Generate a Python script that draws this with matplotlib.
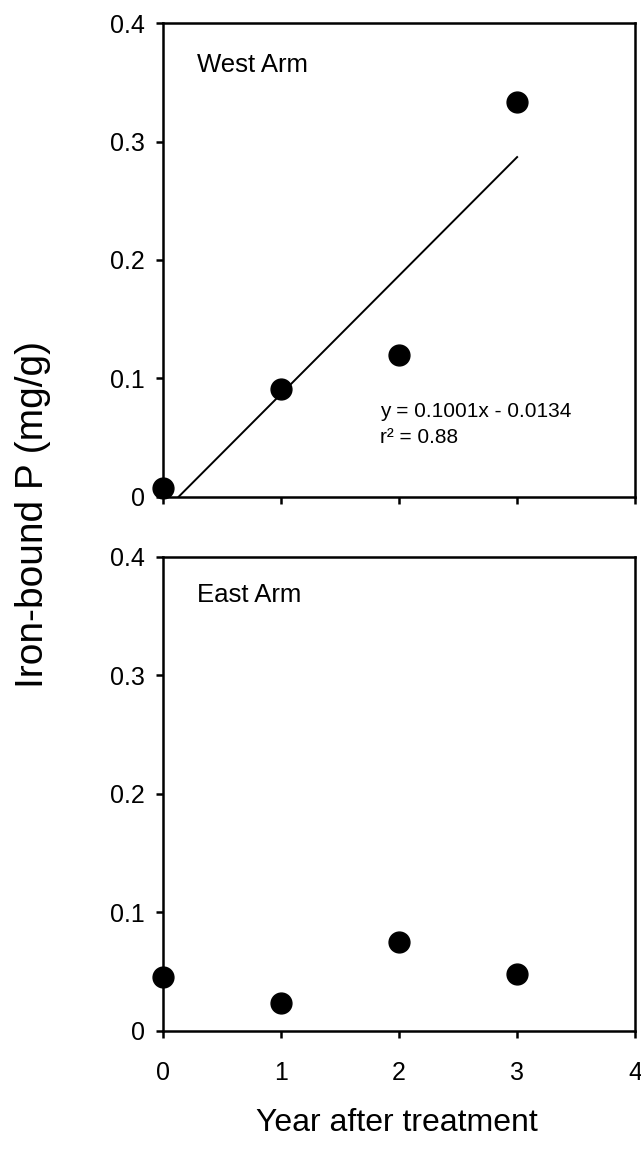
import matplotlib
matplotlib.use("Agg")
import matplotlib.pyplot as plt
import numpy as np

plt.rcParams["font.family"] = ["Liberation Sans", "DejaVu Sans"]

years = [0, 1, 2, 3]
west_p = [0.007, 0.091, 0.120, 0.333]
east_p = [0.045, 0.023, 0.075, 0.048]

# regression for the West Arm
slope = 0.1001
intercept = -0.0134
r2 = 0.88

x_ticks = [0, 1, 2, 3, 4]
y_ticks = [0, 0.1, 0.2, 0.3, 0.4]
y_ticklabels = ["0", "0.1", "0.2", "0.3", "0.4"]

fig = plt.figure(figsize=(6.41, 11.58), dpi=100)
ax_w = fig.add_axes([0.254, 0.571, 0.737, 0.409])
ax_e = fig.add_axes([0.254, 0.110, 0.737, 0.409])


def style_axis(ax, show_xlabels):
    ax.set_xlim(0, 4)
    ax.set_ylim(0, 0.4)
    ax.set_xticks(x_ticks)
    ax.set_yticks(y_ticks)
    ax.set_yticklabels(y_ticklabels)
    if not show_xlabels:
        ax.set_xticklabels([])
    ax.tick_params(axis="both", direction="out", length=5, width=1.8,
                   labelsize=18, colors="black")
    ax.tick_params(axis="x", pad=17)
    ax.tick_params(axis="y", pad=8)
    for sp in ax.spines.values():
        sp.set_linewidth(1.8)


ax_w.plot(years, west_p, "o", color="black", markersize=15, clip_on=False, zorder=4)
fit_x = np.array([-intercept / slope, 3.0])
ax_w.plot(fit_x, slope * fit_x + intercept, color="black", linewidth=1.4)
ax_w.text(1.84, 0.072, f"y = {slope:.4f}x - {abs(intercept):.4f}",
          fontsize=15, va="center", ha="left")
ax_w.text(1.84, 0.050, f"r\u00b2 = {r2:.2f}", fontsize=15, va="center", ha="left")
ax_w.text(0.29, 0.365, "West Arm", fontsize=18.5, va="center", ha="left")
style_axis(ax_w, False)

ax_e.plot(years, east_p, "o", color="black", markersize=15, clip_on=False, zorder=4)
ax_e.text(0.29, 0.368, "East Arm", fontsize=18.5, va="center", ha="left")
style_axis(ax_e, True)

fig.text(0.619, 0.017, "Year after treatment", fontsize=23, ha="center", va="bottom")
fig.text(0.052, 0.556, "Iron-bound P (mg/g)", fontsize=28, rotation=90,
         ha="center", va="center")

fig.savefig("out.png", dpi=100)
